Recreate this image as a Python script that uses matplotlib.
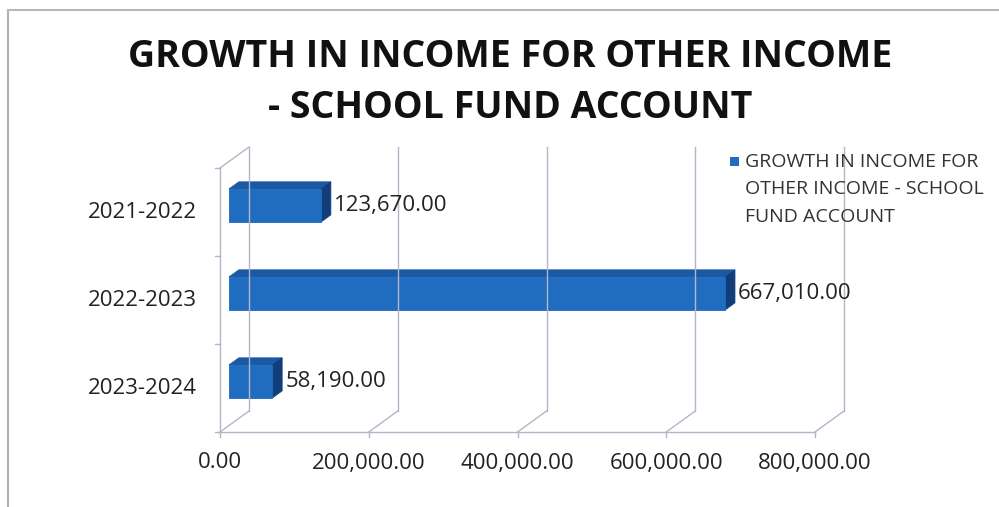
import matplotlib
matplotlib.use("Agg")
import matplotlib.pyplot as plt
from matplotlib.patches import Polygon, Rectangle
from matplotlib.lines import Line2D

categories = ["2021-2022", "2022-2023", "2023-2024"]
values = [123670.00, 667010.00, 58190.00]
xticks = [0, 200000, 400000, 600000, 800000]
series_lines = ["GROWTH IN INCOME FOR", "OTHER INCOME - SCHOOL", "FUND ACCOUNT"]
title_lines = ["GROWTH IN INCOME FOR OTHER INCOME", "- SCHOOL FUND ACCOUNT"]

W, H = 999, 507
fig = plt.figure(figsize=(W / 100, H / 100), dpi=100)
fig.patch.set_facecolor("white")

FONT = "Open Sans"
grid_c = "#b4b6c8"
front_c = "#1f6cc0"
top_c = "#1a59a3"
side_c = "#113e7a"
txt_c = "#222222"

# front plane geometry (pixels)
x0p, x1p = 220, 815
ytop, ybot = 168, 432
ax = fig.add_axes([x0p / W, (H - ybot) / H, (x1p - x0p) / W, (ybot - ytop) / H])
ax.set_xlim(0, 800000)
ax.set_ylim(2.5, -0.5)
ax.axis("off")

# depth vector in data units
dpx, dpy = 29, 21
Dx = dpx / (x1p - x0p) * 800000
Dy = dpy / (ybot - ytop) * 3.0
px_x = 800000 / (x1p - x0p)
px_y = 3.0 / (ybot - ytop)


def P(x, y, d):
    return (x + d * Dx, y - d * Dy)


def line(pts, **kw):
    xs, ys = zip(*pts)
    ax.add_line(Line2D(xs, ys, color=grid_c, lw=1.0, clip_on=False, **kw))


# back wall gridlines + floor diagonals
for v in xticks:
    line([P(v, 2.5, 1), P(v, -0.5, 1)])
    line([P(v, 2.5, 0), P(v, 2.5, 1)])
# left wall
line([P(0, -0.5, 0), P(0, 2.5, 0)])
line([P(0, -0.5, 0), P(0, -0.5, 1)])
# floor front line
line([P(0, 2.5, 0), P(800000, 2.5, 0)])
# ticks
for b in [-0.5, 0.5, 1.5, 2.5]:
    line([(0, b), (-5 * px_x, b)])
for v in xticks:
    line([(v, 2.5), (v, 2.5 + 5 * px_y)])

# bars
bh = 0.375
d0, d1 = 0.31, 0.65
for i, v in enumerate(values):
    yt, yb = i - bh / 2, i + bh / 2
    top = [P(0, yt, d0), P(v, yt, d0), P(v, yt, d1), P(0, yt, d1)]
    side = [P(v, yt, d0), P(v, yb, d0), P(v, yb, d1), P(v, yt, d1)]
    front = [P(0, yt, d0), P(v, yt, d0), P(v, yb, d0), P(0, yb, d0)]
    for poly, c in [(top, top_c), (side, side_c), (front, front_c)]:
        ax.add_patch(Polygon(poly, closed=True, facecolor=c, edgecolor=c,
                             lw=0.6, clip_on=False))
    lx, _ = P(v, i, d1)
    _, ly = P(v, i, d0)
    ax.text(lx + 3 * px_x, ly, f"{v:,.2f}", ha="left", va="center",
            fontsize=16, family=FONT, color=txt_c, clip_on=False)

# category labels
for i, c in enumerate(categories):
    ax.text(-23 * px_x, i, c, ha="right", va="center", fontsize=16,
            family=FONT, color=txt_c)
# value tick labels
for v in xticks:
    ax.text(v, 2.5 + 31 * px_y, f"{v:,.2f}", ha="center", va="center",
            fontsize=16, family=FONT, color=txt_c)

# title
for k, (t, yc) in enumerate(zip(title_lines, [57, 108])):
    fig.text(510 / W, 1 - yc / H, t, ha="center", va="center",
             fontsize=27, fontweight="bold", family=FONT, color="#111111")

# legend
fig.patches.append(Rectangle((730 / W, 1 - 166 / H), 9 / W, 9 / H,
                             transform=fig.transFigure, facecolor=front_c,
                             edgecolor="none"))
for k, (t, yc) in enumerate(zip(series_lines, [162, 189.5, 217])):
    fig.text(745 / W, 1 - yc / H, t, ha="left", va="center",
             fontsize=14, family=FONT, color="#333333")

# outer border (left & top)
fig.add_artist(Line2D([8 / W, 8 / W], [0, 1 - 10 / H], color="#b0b0b0",
                      lw=1.5, transform=fig.transFigure))
fig.add_artist(Line2D([8 / W, 1], [1 - 10 / H, 1 - 10 / H], color="#b8b8b8",
                      lw=1.5, transform=fig.transFigure))

fig.savefig("out.png", dpi=100, facecolor="white")
